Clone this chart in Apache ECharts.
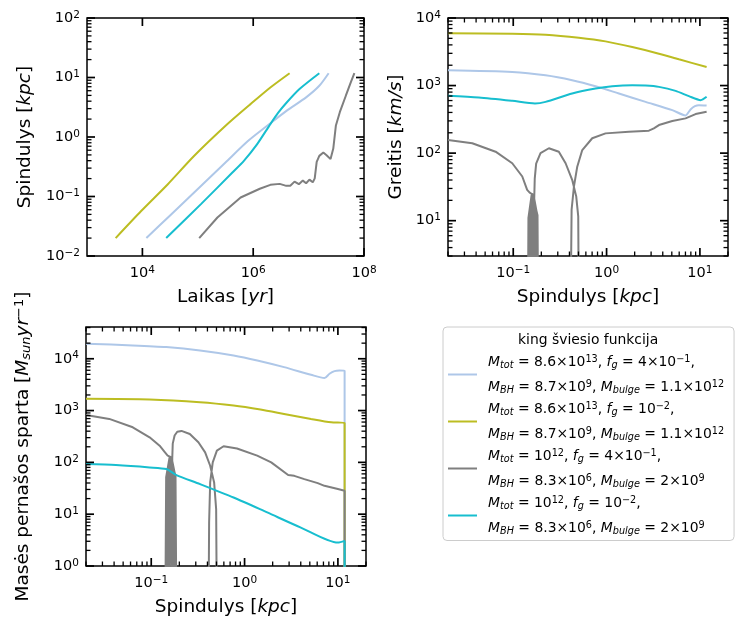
<!DOCTYPE html>
<html><head><meta charset="utf-8">
<script src="https://cdn.jsdelivr.net/npm/echarts@6.0.0/dist/echarts.min.js"></script>
<style>html,body{margin:0;padding:0;background:#fff}#c{width:742px;height:629px}</style>
</head><body><div id="c"></div>
<script>
// ---------------- data ----------------
const seriesNames = ['Mtot 8.6e13, fg 4e-1', 'Mtot 8.6e13, fg 1e-2', 'Mtot 1e12, fg 4e-1', 'Mtot 1e12, fg 1e-2'];
const seriesColors = ['#aec7e8', '#bcbd22', '#7f7f7f', '#17becf'];

// Panel 1: [time (yr), radius (kpc)]
const timeRadius_lightblue = [[1.18e4,0.02],[3.16e4,0.0481],[1.0e5,0.134],[3.16e5,0.373],[7.94e5,0.847],[1.74e6,1.514],[3.98e6,2.754],[9.02e6,4.64],[1.56e7,7.26],[2.30e7,11.8]];
const timeRadius_olive = [[3.29e3,0.02],[9.59e3,0.0575],[2.88e4,0.161],[8.63e4,0.483],[3.43e5,1.648],[8.95e5,3.57],[2.04e6,6.79],[4.54e6,11.8]];
const timeRadius_gray = [[1.06e5,0.02],[2.26e5,0.0444],[5.93e5,0.0962],[1.315e6,0.135],[2.04e6,0.157],[3.01e6,0.163],[3.95e6,0.151],[4.67e6,0.152],[5.57e6,0.178],[6.67e6,0.161],[7.87e6,0.185],[9.02e6,0.167],[1.035e7,0.192],[1.19e7,0.173],[1.29e7,0.202],[1.40e7,0.383],[1.56e7,0.482],[1.845e7,0.548],[2.11e7,0.494],[2.49e7,0.425],[2.79e7,0.640],[3.11e7,1.563],[3.66e7,2.61],[4.70e7,4.94],[5.77e7,8.26],[6.71e7,11.8]];
const timeRadius_cyan = [[2.69e4,0.02],[1.14e5,0.0745],[4.21e5,0.253],[6.79e5,0.398],[1.18e6,0.760],[2.04e6,1.648],[2.81e6,2.54],[3.95e6,3.73],[6.85e6,6.40],[1.56e7,11.8]];

// Panel 2: [radius (kpc), velocity (km/s)]
const velocity_lightblue = [[0.02,1683],[0.0976,1589],[0.222,1419],[0.428,1199],[0.762,977],[1.356,762],[2.62,574],[5.06,433],[7.02,361],[7.94,443],[8.84,495],[9.76,513],[11.8,507]];
const velocity_olive = [[0.02,5970],[0.0976,5850],[0.222,5650],[0.505,5100],[0.975,4510],[1.884,3715],[3.64,2965],[5.96,2445],[11.8,1885]];
const velocity_gray = [[0.02,156],[0.0364,140],[0.0647,105],[0.0976,70.8],[0.125,45.1],[0.141,28.6],[0.150,26],[0.165,24],[0.181,12],[0.185,0.3],
 [0.182,12],[0.160,25],[0.1455,11],[0.1436,0.3],
 [0.1455,11],[0.158,25],[0.179,11],[0.182,0.3],
 [0.179,11],[0.158,24],[0.148,11],[0.1465,0.3],
 [0.148,11],[0.158,24],[0.176,11],[0.179,0.3],
 [0.176,11],[0.160,23],[0.151,11],[0.1495,0.3],
 [0.151,11],[0.160,22],[0.173,11],[0.176,0.3],
 [0.173,11],[0.162,21],[0.154,11],[0.1525,0.3],
 [0.154,11],[0.162,20],[0.170,11],[0.173,0.3],
 [0.170,11],[0.162,18],[0.157,10],[0.1555,0.3],
 [0.157,10],[0.162,16],[0.167,10],[0.170,0.3],
 [0.167,10],[0.1625,14],[0.160,9],[0.1585,0.3],
 [0.160,9],[0.163,12],[0.165,9],[0.167,0.3],
 [0.168,22],[0.170,42],[0.176,70],[0.196,99.6],[0.241,118],[0.308,105],[0.364,70.8],[0.428,40.2],[0.473,22.9],[0.497,11.6],[0.505,0.3],
 [0.46,1.5],[0.411,0.3],[0.422,14.5],[0.447,32],[0.485,63],[0.549,111],[0.702,166],[0.975,196],[1.734,208],[2.84,215],[3.21,232],[3.64,260],[5.06,298],[7.02,327],[8.99,378],[11.8,409]];
const velocity_cyan = [[0.02,705],[0.0428,665],[0.0976,594],[0.171,543],[0.222,574],[0.428,762],[0.762,903],[1.15,977],[1.884,1011],[2.62,1000],[3.64,956],[5.49,834],[7.62,697],[10.2,608],[11.8,681]];

// Panel 3: [radius (kpc), mass flow rate (Msun/yr)]
const massFlow_lightblue = [[0.02,19500],[0.0634,18100],[0.145,16800],[0.333,14500],[0.762,11600],[1.37,9290],[2.65,6900],[5.15,4900],[7.18,4230],[8.13,5130],[9.2,5770],[10.4,5940],[11.8,5860],[11.8,0.1]];
const massFlow_olive = [[0.02,1683],[0.096,1633],[0.333,1449],[0.762,1250],[1.48,1045],[2.65,861],[5.15,690],[8.47,594],[11.8,577],[11.8,0.1]];
const massFlow_gray = [[0.02,824],[0.0355,690],[0.0634,475],[0.096,305],[0.123,210],[0.139,160],[0.150,135],[0.165,125],[0.181,55],[0.186,0.1],
 [0.182,55],[0.160,130],[0.1445,52],[0.1415,0.1],
 [0.1445,52],[0.158,132],[0.179,55],[0.1825,0.1],
 [0.179,55],[0.158,130],[0.147,52],[0.1450,0.1],
 [0.147,52],[0.158,128],[0.176,55],[0.179,0.1],
 [0.176,55],[0.160,125],[0.150,52],[0.1485,0.1],
 [0.150,52],[0.160,122],[0.173,55],[0.176,0.1],
 [0.173,55],[0.162,118],[0.153,52],[0.1515,0.1],
 [0.153,52],[0.162,112],[0.170,52],[0.173,0.1],
 [0.170,52],[0.162,100],[0.156,50],[0.1545,0.1],
 [0.156,50],[0.162,90],[0.167,50],[0.170,0.1],
 [0.167,50],[0.1625,75],[0.159,45],[0.1575,0.1],
 [0.159,45],[0.162,60],[0.165,45],[0.167,0.1],
 [0.168,120],[0.170,230],[0.178,330],[0.190,390],[0.211,405],[0.259,353],[0.32,244],[0.378,156],[0.428,86],[0.472,41],[0.496,12.5],[0.505,0.1],
 [0.46,0.3],[0.411,0.1],[0.417,6.9],[0.428,41],[0.456,100],[0.505,168],[0.596,205],[0.83,185],[1.365,135],[1.93,100],[2.93,57],[3.41,55],[4.37,47.5],[6.08,39.8],[7.18,35.3],[10.0,30.5],[11.8,28.3],[11.8,0.1]];
const massFlow_cyan = [[0.02,92.9],[0.0418,88.7],[0.096,80.0],[0.145,74.3],[0.186,56.9],[0.333,38.1],[0.762,21.0],[1.75,10.8],[4.01,5.52],[10.0,2.83],[11.8,3.05],[11.8,0.1]];

// Axis ranges and tick values
const p1xRange = [1e3, 1e8];
const p1yRange = [1e-2, 1e2];
const p2xRange = [0.02, 20];
const p2yRange = [3, 1e4];
const p3xRange = [0.02, 20];
const p3yRange = [1, 41000];
const p1xMajor = [1e4, 1e6, 1e8];
const p1xMinor = [];
const p1yMajor = [1e-2, 1e-1, 1, 10, 100];
const p1yMinor = [0.02,0.03,0.04,0.05,0.06,0.07,0.08,0.09,0.2,0.3,0.4,0.5,0.6,0.7,0.8,0.9,2,3,4,5,6,7,8,9,20,30,40,50,60,70,80,90];
const rxMajor = [0.1, 1, 10];
const rxMinor = [0.02,0.03,0.04,0.05,0.06,0.07,0.08,0.09,0.2,0.3,0.4,0.5,0.6,0.7,0.8,0.9,2,3,4,5,6,7,8,9,20];
const p2yMajor = [10, 100, 1000, 10000];
const p2yMinor = [3,4,5,6,7,8,9,20,30,40,50,60,70,80,90,200,300,400,500,600,700,800,900,2000,3000,4000,5000,6000,7000,8000,9000];
const p3yMajor = [1, 10, 100, 1000, 10000];
const p3yMinor = [2,3,4,5,6,7,8,9,20,30,40,50,60,70,80,90,200,300,400,500,600,700,800,900,2000,3000,4000,5000,6000,7000,8000,9000,20000,30000,40000];

const legendTitle = 'king šviesio funkcija';
const legendTexts = [
  '{i|M}{sb|tot}{n| = 8.6×10}{sp|13}{n|, }{i|f}{sb|g}{n| = 4×10}{sp|−1}{n|,}\n{i|M}{sb|BH}{n| = 8.7×10}{sp|9}{n|, }{i|M}{sb|bulge}{n| = 1.1×10}{sp|12}',
  '{i|M}{sb|tot}{n| = 8.6×10}{sp|13}{n|, }{i|f}{sb|g}{n| = 10}{sp|−2}{n|,}\n{i|M}{sb|BH}{n| = 8.7×10}{sp|9}{n|, }{i|M}{sb|bulge}{n| = 1.1×10}{sp|12}',
  '{i|M}{sb|tot}{n| = 10}{sp|12}{n|, }{i|f}{sb|g}{n| = 4×10}{sp|−1}{n|,}\n{i|M}{sb|BH}{n| = 8.3×10}{sp|6}{n|, }{i|M}{sb|bulge}{n| = 2×10}{sp|9}',
  '{i|M}{sb|tot}{n| = 10}{sp|12}{n|, }{i|f}{sb|g}{n| = 10}{sp|−2}{n|,}\n{i|M}{sb|BH}{n| = 8.3×10}{sp|6}{n|, }{i|M}{sb|bulge}{n| = 2×10}{sp|9}'
];

// ---------------- chart ----------------
const FONT = 'DejaVu Sans';
const MAJOR_LEN = 8, MINOR_LEN = 4.5;
const tickRich = {
  b: {fontSize: 14.5, fontFamily: FONT, color: '#000'},
  s: {fontSize: 10.5, fontFamily: FONT, color: '#000', padding: [0, 0, 6, 0]}
};
const nameRich = {
  n: {fontSize: 18.5, fontFamily: FONT, color: '#000'},
  i: {fontSize: 18.5, fontFamily: FONT, fontStyle: 'italic', color: '#000'},
  sb: {fontSize: 13, fontFamily: FONT, fontStyle: 'italic', color: '#000', padding: [7, 0, 0, 0]},
  sp: {fontSize: 13, fontFamily: FONT, color: '#000', padding: [0, 0, 8, 0]}
};
const legRich = {
  n: {fontSize: 13.9, fontFamily: FONT, color: '#000', lineHeight: 25},
  i: {fontSize: 13.9, fontFamily: FONT, fontStyle: 'italic', color: '#000', lineHeight: 25},
  sb: {fontSize: 9.7, fontFamily: FONT, fontStyle: 'italic', color: '#000', padding: [7, 0, 0, 0]},
  sp: {fontSize: 9.7, fontFamily: FONT, color: '#000', padding: [0, 0, 6, 0]}
};
function powLabel(v) {
  const e = Math.round(Math.log10(v));
  return '{b|10}{s|' + (e < 0 ? '\u2212' + (-e) : String(e)) + '}';
}
function mkAxis(grid, range, majors, cfg) {
  return {
    type: 'log', logBase: 10, gridIndex: grid, min: range[0], max: range[1],
    axisLine: {show: false, onZero: false}, splitLine: {show: false}, axisTick: {show: false},
    axisPointer: {show: false},
    axisLabel: {show: true, customValues: majors, formatter: powLabel, margin: cfg.margin, rich: tickRich, color: '#000', fontFamily: FONT},
    name: cfg.name, nameLocation: 'middle', nameGap: cfg.gap,
    nameTextStyle: {fontFamily: FONT, fontSize: 18.5, color: '#000', rich: nameRich}
  };
}
const xAxes = [
  mkAxis(0, p1xRange, p1xMajor, {name: '{n|Laikas [}{i|yr}{n|]}', gap: 32, margin: 9}),
  mkAxis(1, p2xRange, rxMajor, {name: '{n|Spindulys [}{i|kpc}{n|]}', gap: 32, margin: 9}),
  mkAxis(2, p3xRange, rxMajor, {name: '{n|Spindulys [}{i|kpc}{n|]}', gap: 32, margin: 9})
];
const yAxes = [
  mkAxis(0, p1yRange, p1yMajor, {name: '{n|Spindulys [}{i|kpc}{n|]}', gap: 52, margin: 7}),
  mkAxis(1, p2yRange, p2yMajor, {name: '{n|Greitis [}{i|km/s}{n|]}', gap: 42, margin: 7}),
  mkAxis(2, p3yRange, p3yMajor, {name: '{n|Masės pernašos sparta [}{i|M}{sb|sun}{i|yr}{sp|−1}{n|]}', gap: 52, margin: 7})
];

const panelData = [
  [timeRadius_lightblue, timeRadius_olive, timeRadius_gray, timeRadius_cyan],
  [velocity_lightblue, velocity_olive, velocity_gray, velocity_cyan],
  [massFlow_lightblue, massFlow_olive, massFlow_gray, massFlow_cyan]
];
const series = [];
panelData.forEach((sets, p) => {
  sets.forEach((d, k) => {
    series.push({
      type: 'line', name: seriesNames[k], xAxisIndex: p, yAxisIndex: p, data: d,
      symbol: 'none', showSymbol: false, clip: true,
      smooth: k === 2 ? false : 0.25,
      lineStyle: {color: seriesColors[k], width: 2}, itemStyle: {color: seriesColors[k]}
    });
  });
});

const grids = [
  {left: 87, top: 18, width: 277, height: 238},
  {left: 448, top: 18, width: 280, height: 238},
  {left: 86, top: 327, width: 280, height: 239}
];
const option = {
  animation: false,
  textStyle: {fontFamily: FONT},
  grid: grids.map(g => Object.assign({show: true, borderColor: '#000', borderWidth: 1.5, backgroundColor: 'rgba(255,255,255,0)', containLabel: false}, g)),
  title: {text: legendTitle, left: 513, top: 328, textStyle: {fontFamily: FONT, fontSize: 13.9, fontWeight: 'normal', color: '#000'}},
  legend: {
    data: seriesNames, orient: 'vertical', left: 443, top: 327,
    padding: [27, 10, 4, 4], itemWidth: 29, itemHeight: 14, itemGap: 5.5,
    borderColor: '#cccccc', borderWidth: 1, borderRadius: 4, backgroundColor: 'rgba(255,255,255,0.8)',
    selectedMode: false,
    itemStyle: {opacity: 0},
    textStyle: {fontFamily: FONT, fontSize: 13.9, color: '#000', padding: [0, 0, 0, 6], rich: legRich},
    formatter: name => legendTexts[seriesNames.indexOf(name)]
  },
  xAxis: xAxes,
  yAxis: yAxes,
  series: series
};
const chart = echarts.init(document.getElementById('c'), null, {renderer: 'canvas'});
chart.setOption(option);

// Inward ticks (major and minor) on all four sides, positioned through each panel's own log axes,
// drawn on their own layer above the plot areas.
const tickSpecs = [
  {xMaj: p1xMajor, xMin: p1xMinor, yMaj: p1yMajor, yMin: p1yMinor},
  {xMaj: rxMajor, xMin: rxMinor, yMaj: p2yMajor, yMin: p2yMinor},
  {xMaj: rxMajor, xMin: rxMinor, yMaj: p3yMajor, yMin: p3yMinor}
];
const tickEls = [];
tickSpecs.forEach((t, p) => {
  const g = grids[p];
  const L = g.left, R = g.left + g.width, T = g.top, B = g.top + g.height;
  const cx = v => chart.convertToPixel({xAxisIndex: p}, v);
  const cy = v => chart.convertToPixel({yAxisIndex: p}, v);
  const add = (shape, w) => tickEls.push({type: 'line', zlevel: 1, z: 100, silent: true, shape: shape, style: {stroke: '#000', lineWidth: w}});
  [[t.xMaj, MAJOR_LEN, 1.7], [t.xMin, MINOR_LEN, 1.3]].forEach(([vals, len, w]) => vals.forEach(v => {
    const x = cx(v);
    if (!isFinite(x)) return;
    add({x1: x, y1: B, x2: x, y2: B - len}, w);
    add({x1: x, y1: T, x2: x, y2: T + len}, w);
  }));
  [[t.yMaj, MAJOR_LEN, 1.7], [t.yMin, MINOR_LEN, 1.3]].forEach(([vals, len, w]) => vals.forEach(v => {
    const y = cy(v);
    if (!isFinite(y)) return;
    add({x1: L, y1: y, x2: L + len, y2: y}, w);
    add({x1: R, y1: y, x2: R - len, y2: y}, w);
  }));
});
chart.setOption({graphic: {elements: tickEls}});
</script>
</body></html>
